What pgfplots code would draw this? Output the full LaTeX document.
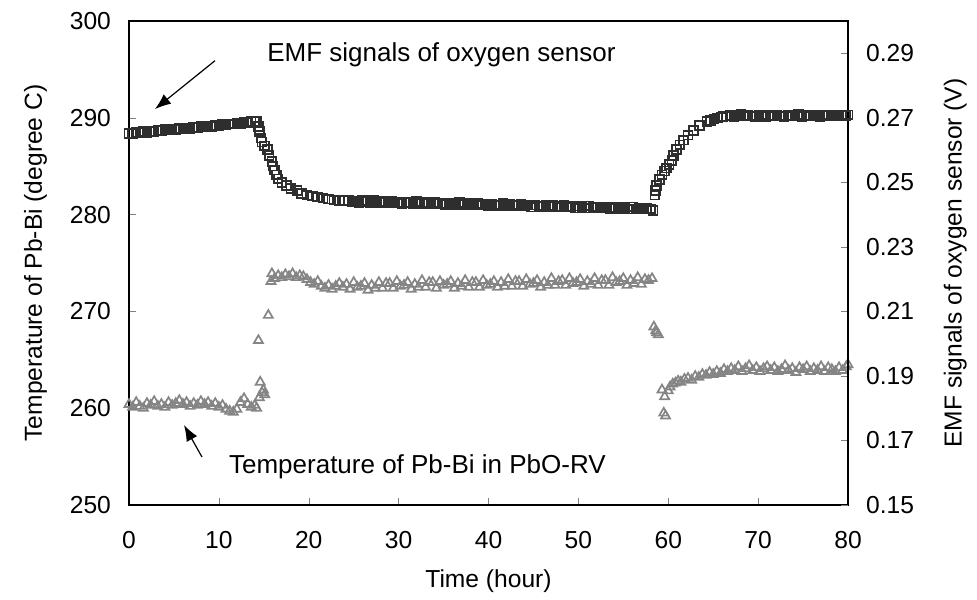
\documentclass[border=0pt]{standalone}
\usepackage{fontspec}
\setmainfont{Liberation Sans}
\usepackage{pgfplots}
\pgfplotsset{compat=1.18}
\usetikzlibrary{arrows.meta}

\pgfplotsset{
  every axis/.append style={font=\fontsize{12.3}{14}\selectfont},
  /pgf/number format/assume math mode=true,
}

\begin{document}
\begin{tikzpicture}
% left axis: temperature of Pb-Bi
\begin{axis}[
  width=359.5pt, height=242pt, scale only axis,
  xmin=0, xmax=80, ymin=250, ymax=300,
  xtick={0,10,...,80}, ytick={250,260,...,300},
  xtick pos=bottom, ytick pos=left,
  tick align=inside, major tick length=3.5pt,
  axis line style={line width=0.6pt},
  xticklabel style={yshift=-9.7pt},
  yticklabel style={xshift=-5.5pt},
  xlabel={Time (hour)},
  xlabel style={at={(axis description cs:0.5,-0.157)},anchor=center},
  ylabel={Temperature of Pb-Bi (degree C)},
  ylabel style={at={(axis description cs:-0.13,0.5)},anchor=center},
  clip=false,
]
\addplot[only marks, mark=triangle, mark size=2.6pt,
  mark options={draw=black!48, line width=0.85pt}] coordinates {
(0.0,260.4)(0.4,260.1)(0.8,260.6)(1.2,260.2)(1.6,260.0)(2.0,260.5)(2.4,260.3)(2.8,260.7)
(3.2,260.2)(3.6,260.4)(4.0,260.1)(4.4,260.6)(4.8,260.3)(5.2,260.5)(5.6,260.8)(6.0,260.4)
(6.4,260.6)(6.8,260.2)(7.2,260.5)(7.6,260.3)(8.0,260.7)(8.4,260.4)(8.8,260.6)(9.2,260.2)
(9.6,260.5)(10.0,260.1)(10.4,260.3)(10.8,259.9)(11.2,259.7)(11.6,259.6)(12.0,259.9)(12.4,260.6)
(12.8,261.0)(13.2,260.4)(13.6,260.1)(14.0,260.3)(14.2,260.0)(14.4,267.0)(14.5,261.1)(14.6,262.7)
(14.8,261.6)(14.95,261.9)(15.1,261.4)(15.5,269.6)(15.8,273.1)(15.9,273.9)
(16.2,273.4)(16.6,273.7)(17.0,273.5)(17.4,273.8)(17.8,273.6)(18.2,273.9)(18.6,273.5)(19.0,273.7)
(19.4,273.6)(19.8,273.3)(20.2,273.0)(20.6,272.8)(21.0,273.1)(21.4,272.6)(21.8,272.4)(22.2,272.7)
(22.6,272.3)(23.0,272.6)(23.4,272.9)(23.8,272.5)
(24.2,272.8)(24.6,272.3)(25.0,273.0)(25.4,272.5)(25.8,272.6)(26.2,272.9)(26.6,272.2)(27.0,272.7)
(27.4,272.4)(27.8,273.0)(28.2,272.4)(28.6,272.9)(29.0,272.9)(29.4,272.4)(29.8,273.1)(30.2,272.6)
(30.6,272.7)(31.0,273.0)(31.4,272.3)(31.8,272.8)(32.2,272.5)(32.6,273.2)(33.0,272.5)(33.4,273.0)
(33.8,273.0)(34.2,272.4)(34.6,273.1)(35.0,272.7)(35.4,272.8)(35.8,273.1)(36.2,272.4)(36.6,272.9)
(37.0,272.6)(37.4,273.2)(37.8,272.5)(38.2,273.0)(38.6,273.0)(39.0,272.5)(39.4,273.2)(39.8,272.7)
(40.2,272.8)(40.6,273.1)(41.0,272.5)(41.4,273.0)(41.8,272.6)(42.2,273.3)(42.6,272.6)(43.0,273.1)
(43.4,273.1)(43.8,272.6)(44.2,273.3)(44.6,272.8)(45.0,272.9)(45.4,273.2)(45.8,272.5)(46.2,273.0)
(46.6,272.7)(47.0,273.4)(47.4,272.7)(47.8,273.1)(48.2,273.2)(48.6,272.7)(49.0,273.4)(49.4,272.9)
(49.8,273.0)(50.2,273.3)(50.6,272.6)(51.0,273.1)(51.4,272.8)(51.8,273.4)(52.2,272.7)(52.6,273.2)
(53.0,273.2)(53.4,272.7)(53.8,273.5)(54.2,273.0)(54.6,273.1)(55.0,273.4)(55.4,272.7)(55.8,273.2)
(56.2,272.9)(56.6,273.5)(57.0,272.8)(57.4,273.3)(57.8,273.2)(58.2,273.4)
(58.4,268.4)(58.6,268.0)(58.7,267.8)(58.9,267.6)(59.3,261.9)(59.5,259.5)(59.6,261.2)(59.7,259.2)
(60.0,261.8)(60.2,262.2)(60.5,262.5)(60.8,262.6)(61.1,262.8)(61.4,262.7)(61.8,263.0)(62.2,263.1)
(62.6,262.9)(63.0,263.3)(63.4,263.2)(63.8,263.5)(64.2,263.4)(64.6,263.7)(65.0,263.5)(65.4,263.8)
(65.8,263.6)(66.2,264.0)(66.6,263.8)(67.0,264.1)(67.4,263.9)(67.8,264.3)(68.2,263.8)(68.6,264.1)
(69.0,264.4)(69.4,263.9)(69.8,264.2)(70.2,263.8)(70.6,264.1)(71.0,264.3)(71.4,263.9)(71.8,264.2)
(72.2,263.8)(72.6,264.0)(73.0,264.4)(73.4,263.9)(73.8,264.1)(74.2,263.7)(74.6,264.2)(75.0,264.0)
(75.4,264.3)(75.8,263.8)(76.2,264.1)(76.6,263.9)(77.0,264.3)(77.4,263.8)(77.8,264.2)(78.2,264.0)
(78.6,263.8)(79.0,264.2)(79.4,263.9)(79.8,264.3)(80.0,264.5)
};
\node[anchor=west, font=\fontsize{13}{15}\selectfont] at (axis cs:14.6,296.5) {EMF signals of oxygen sensor};
\draw[-{Latex[length=8pt,width=6pt]}, line width=0.6pt] (axis cs:9.57,295.9) -- (axis cs:2.89,290.9);
\node[anchor=west, font=\fontsize{13}{15}\selectfont] at (axis cs:10.35,253.9) {Temperature of Pb-Bi in PbO-RV};
\draw[-{Latex[length=8pt,width=6pt]}, line width=0.6pt] (axis cs:8.12,254.96) -- (axis cs:6.12,258.26);
\end{axis}

% right axis: EMF of oxygen sensor
\begin{axis}[
  width=359.5pt, height=242pt, scale only axis,
  xmin=0, xmax=80, ymin=0.15, ymax=0.30,
  axis x line=none, axis y line*=right,
  ytick={0.15,0.17,0.19,0.21,0.23,0.25,0.27,0.29},
  tick align=inside, major tick length=3.5pt,
  axis line style={line width=0.6pt},
  yticklabel style={xshift=5.5pt, /pgf/number format/fixed, /pgf/number format/precision=2, /pgf/number format/fixed zerofill},
  ylabel={EMF signals of oxygen sensor (V)},
  ylabel style={at={(axis description cs:1.149,0.5)},anchor=center},
]
\addplot[only marks, mark=square, mark size=2.2pt,
  mark options={draw=black!82, line width=0.85pt}] coordinates {
(0.0,0.2652)(0.4,0.2650)(0.8,0.2655)(1.2,0.2654)(1.6,0.2657)(2.0,0.2655)(2.4,0.2659)(2.8,0.2658)
(3.2,0.2661)(3.6,0.2659)(4.0,0.2663)(4.4,0.2662)(4.8,0.2665)(5.2,0.2663)(5.6,0.2667)(6.0,0.2666)
(6.4,0.2668)(6.8,0.2667)(7.2,0.2671)(7.6,0.2669)(8.0,0.2673)(8.4,0.2671)(8.8,0.2674)(9.2,0.2673)
(9.6,0.2677)(10.0,0.2675)(10.4,0.2679)(10.8,0.2678)(11.2,0.2681)(11.6,0.2680)(12.0,0.2684)(12.4,0.2683)
(12.8,0.2686)(13.2,0.2685)(13.6,0.2688)(14.0,0.2688)
(14.2,0.2688)(14.4,0.2673)(14.5,0.2658)(14.7,0.2637)(14.8,0.2625)(15.1,0.2613)(15.4,0.2601)(15.6,0.2583)
(15.9,0.2565)(16.0,0.2550)(16.2,0.2538)(16.4,0.2523)(16.6,0.2511)(17.0,0.2499)(17.5,0.2490)(18.0,0.2481)
(18.7,0.2475)(19.2,0.2466)(19.8,0.2460)(20.4,0.2457)(21.0,0.2454)(21.6,0.2451)(22.2,0.2448)(22.8,0.2445)
(23.4,0.2444)(24.0,0.2442)
(24.4,0.2445)(24.8,0.2439)(25.2,0.2442)(25.6,0.2437)(26.0,0.2443)(26.4,0.2440)(26.8,0.2437)(27.2,0.2444)
(27.6,0.2438)(28.0,0.2441)(28.4,0.2437)(28.8,0.2440)(29.2,0.2441)(29.6,0.2436)(30.0,0.2439)(30.4,0.2434)
(30.8,0.2439)(31.2,0.2437)(31.6,0.2434)(32.0,0.2440)(32.4,0.2435)(32.8,0.2438)(33.2,0.2434)(33.6,0.2436)
(34.0,0.2438)(34.4,0.2433)(34.8,0.2435)(35.2,0.2430)(35.6,0.2436)(36.0,0.2434)(36.4,0.2430)(36.8,0.2437)
(37.2,0.2432)(37.6,0.2434)(38.0,0.2430)(38.4,0.2433)(38.8,0.2435)(39.2,0.2429)(39.6,0.2432)(40.0,0.2427)
(40.4,0.2432)(40.8,0.2430)(41.2,0.2427)(41.6,0.2434)(42.0,0.2428)(42.4,0.2431)(42.8,0.2427)(43.2,0.2430)
(43.6,0.2431)(44.0,0.2426)(44.4,0.2429)(44.8,0.2423)(45.2,0.2429)(45.6,0.2427)(46.0,0.2424)(46.4,0.2430)
(46.8,0.2425)(47.2,0.2428)(47.6,0.2423)(48.0,0.2426)(48.4,0.2428)(48.8,0.2423)(49.2,0.2425)(49.6,0.2420)
(50.0,0.2426)(50.4,0.2424)(50.8,0.2420)(51.2,0.2427)(51.6,0.2422)(52.0,0.2424)(52.4,0.2420)(52.8,0.2423)
(53.2,0.2424)(53.6,0.2419)(54.0,0.2422)(54.4,0.2417)(54.8,0.2422)(55.2,0.2420)(55.6,0.2417)(56.0,0.2424)
(56.4,0.2418)(56.8,0.2421)(57.2,0.2417)(57.6,0.2419)(58.0,0.2418)(58.3,0.2412)
(58.5,0.2460)(58.6,0.2475)(58.7,0.2490)(59.0,0.2508)(59.3,0.2523)(59.6,0.2535)(59.8,0.2544)(60.1,0.2556)
(60.4,0.2568)(60.6,0.2583)(60.9,0.2601)(61.3,0.2616)(61.7,0.2631)(62.2,0.2646)(62.8,0.2661)(63.5,0.2676)
(64.3,0.2688)(64.7,0.2692)(65.1,0.2697)(65.5,0.2700)(65.9,0.2702)(66.1,0.2704)
(66.5,0.2705)(66.9,0.2708)(67.3,0.2704)(67.7,0.2707)(68.1,0.2710)(68.5,0.2705)(68.9,0.2708)(69.3,0.2706)
(69.7,0.2703)(70.1,0.2707)(70.5,0.2709)(70.9,0.2704)(71.3,0.2707)(71.7,0.2705)(72.1,0.2709)(72.5,0.2706)
(72.9,0.2703)(73.3,0.2708)(73.7,0.2705)(74.1,0.2707)(74.5,0.2710)(74.9,0.2704)(75.3,0.2707)(75.7,0.2705)
(76.1,0.2709)(76.5,0.2706)(76.9,0.2703)(77.3,0.2707)(77.7,0.2709)(78.1,0.2705)(78.5,0.2708)(78.9,0.2706)
(79.3,0.2709)(79.7,0.2707)(80.0,0.2709)
};
\end{axis}
\pgfresetboundingbox
\path[use as bounding box] (-64.5pt,-47pt) rectangle (424pt,252.5pt);
\end{tikzpicture}
\end{document}
